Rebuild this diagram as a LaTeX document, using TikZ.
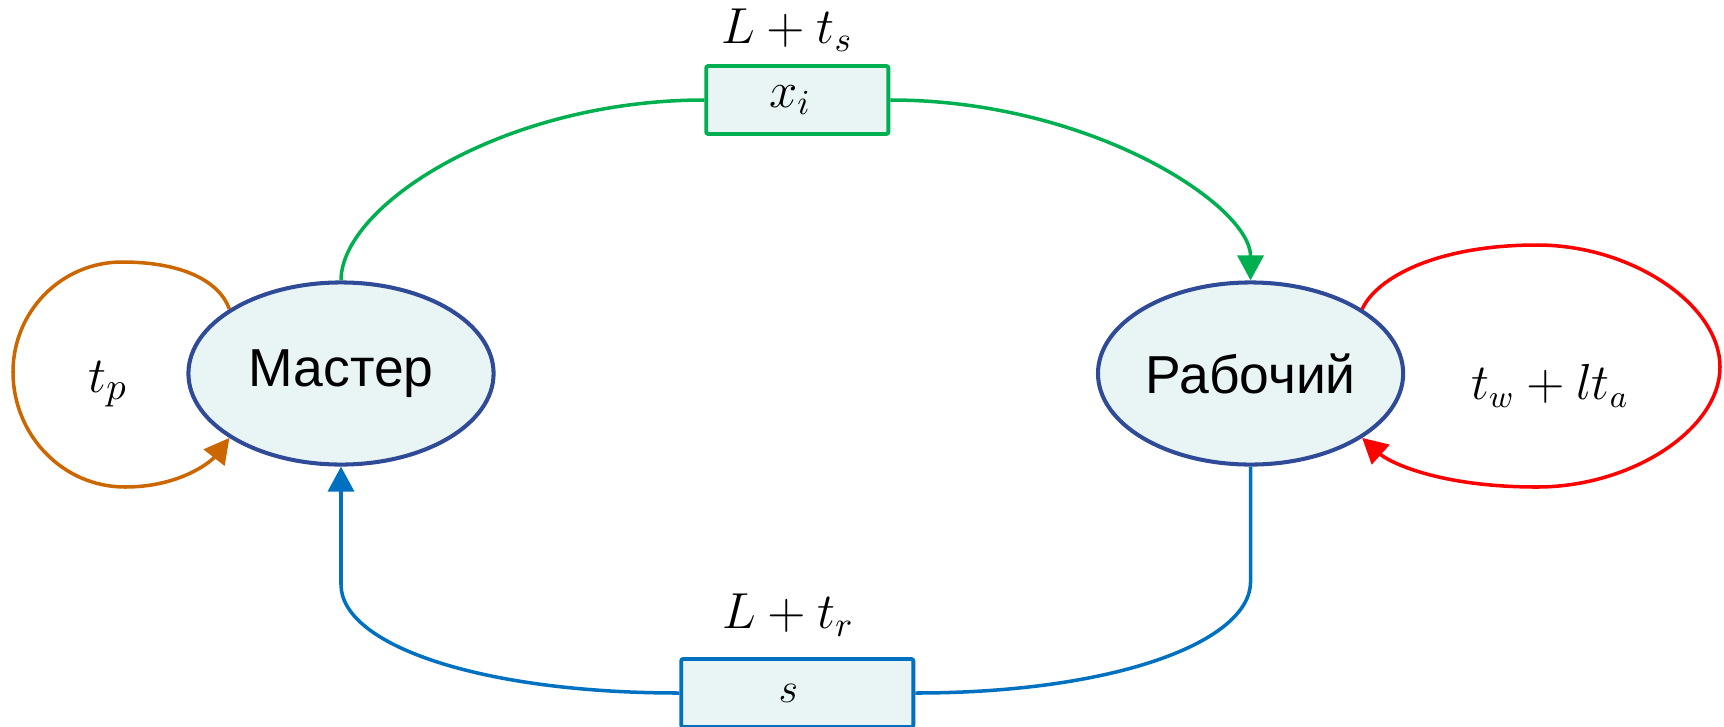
\documentclass[tikz,border=0pt]{standalone}
\usepackage{fontspec}
\newfontfamily\procfont{Liberation Sans}
\usepackage{xcolor}
\usepackage{tikz}
\usetikzlibrary{arrows.meta,positioning,calc,shapes.geometric}
\definecolor{procedge}{HTML}{2F4A97}
\definecolor{procfill}{HTML}{E9F5F5}
\definecolor{sendgreen}{HTML}{00B050}
\definecolor{recvblue}{HTML}{0070C0}
\definecolor{loopamber}{HTML}{CC6600}
\definecolor{loopred}{HTML}{FF0000}
\tikzset{
  proc/.style={ellipse, draw=procedge, fill=procfill, line width=1.15pt,
    minimum width=3.05cm, minimum height=1.82cm, inner sep=0pt,
    font=\procfont\fontsize{15.2}{17}\selectfont},
  msg/.style={fill=procfill, rounded corners=0.6pt, line width=1.1pt,
    minimum height=0.68cm, inner sep=0pt, font=\fontsize{14.5}{16}\selectfont},
  lbl/.style={inner sep=0pt, font=\fontsize{14.8}{17}\selectfont},
  arr/.style={-{Triangle[length=2.5mm, width=2.6mm]}},
  sflow/.style={draw=sendgreen, line width=1pt},
  rflow/.style={draw=recvblue, line width=1pt},
  ploop/.style={draw=loopamber, line width=1pt},
  wloop/.style={draw=loopred, line width=1pt}
}

\begin{document}
\begin{tikzpicture}[x=0.01cm, y=0.01cm]
  \useasboundingbox (0,0) rectangle (1724,726);

  % processes
  \node[proc] (master) at (341,352.5) {Мастер};
  \node[proc, right=6.0cm of master] (worker) {Рабочий};

  % messages
  \node[msg, draw=sendgreen, minimum width=1.82cm] (xmsg)
    at ($(master)!0.5!(worker)+(1.5,273.5)$) {\hspace*{-1.4mm}$x_i$};
  \node[msg, draw=recvblue, minimum width=2.32cm] (smsg)
    at ($(master)!0.5!(worker)+(1.5,-319.5)$) {\raisebox{-0.5mm}{\hspace*{-1.8mm}\fontsize{13}{14}\selectfont$s$}};
  \node[lbl, above=1.2mm of xmsg, xshift=-1mm] (tsend) {$L+t_s$};
  \node[lbl, above=2mm of smsg, xshift=-0.9mm] (trecv) {$L+t_r$};

  % loop labels
  \node[lbl, font=\fontsize{15.5}{17}\selectfont] (tproc) at (108,342) {$t_p$};
  \node[lbl, font=\fontsize{13.5}{15}\selectfont] (twork) at (1550,340) {$t_w+lt_a$};

  % send / receive
  \draw[sflow] (master.north) to[out=90, in=180, out distance=0.75cm, in distance=2cm] (xmsg.west);
  \draw[sflow, arr] (xmsg.east) to[out=0, in=90, out distance=2cm, in distance=0.75cm] (worker.north);
  \draw[rflow] (worker.south) -- ++(0,-115)
    to[out=270, in=0, out distance=0.6cm, in distance=2cm] (smsg.east);
  \draw[rflow, arr] (smsg.west) to[out=180, in=270, out distance=2cm, in distance=0.6cm]
    ($(master.south)+(0,-118)$) -- (master.south);

  % self loops
  \draw[ploop, arr] (master.150) to[out=110, in=0, out distance=0.3cm, in distance=0.6cm] (122,464)
    to[out=180, in=90] (13,354) to[out=270, in=180] (125,239)
    to[out=0, in=232, out distance=0.55cm, in distance=0.3cm] (master.210);
  \draw[wloop, arr] (worker.30) to[out=65, in=180, out distance=0.35cm, in distance=1cm] (1537,481)
    to[out=0, in=90, out distance=0.95cm, in distance=0.62cm] (1720,359)
    to[out=270, in=0, out distance=0.62cm, in distance=0.95cm] (1537,239)
    to[out=180, in=-42, out distance=1cm, in distance=0.35cm] (worker.-30);
\end{tikzpicture}
\end{document}
